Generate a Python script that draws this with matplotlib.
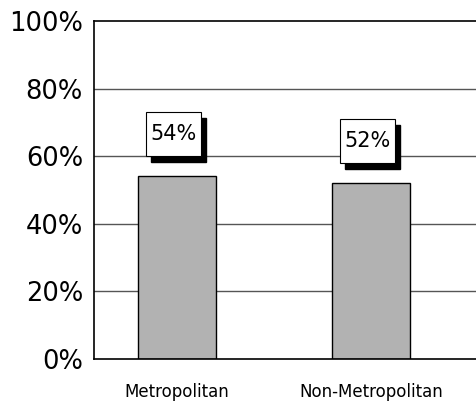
import matplotlib
matplotlib.use("Agg")
import matplotlib.pyplot as plt
import matplotlib.transforms as mtransforms
from matplotlib.patches import Rectangle

categories = ["Metropolitan", "Non-Metropolitan"]
values = [54, 52]
value_labels = ["54%", "52%"]
yticks = [0, 20, 40, 60, 80, 100]
ytick_labels = ["0%", "20%", "40%", "60%", "80%", "100%"]

plt.rcParams['font.family'] = ['DejaVu Sans']

fig = plt.figure(figsize=(4.76, 4.04), dpi=100)
ax = fig.add_axes([94/476, 45/404, 388/476, 338/404])

x = [0.5, 1.5]
ax.bar(x, values, width=0.4, color="#b2b2b2", edgecolor="black", linewidth=1, zorder=2)

ax.set_xlim(0.072, 2.072)
ax.set_ylim(0, 100)
ax.set_yticks(yticks)
ax.set_yticklabels(ytick_labels, fontsize=18.5)
ax.set_xticks(x)
ax.set_xticklabels(categories, fontsize=12)
ax.tick_params(axis="y", length=0, pad=8)
ax.tick_params(axis="x", length=0, pad=17)
for t in yticks[1:-1]:
    ax.axhline(t, color="#555555", linewidth=1, zorder=1)
for s in ["left", "bottom", "top"]:
    ax.spines[s].set_color("black")
    ax.spines[s].set_linewidth(1.2)
ax.spines["right"].set_visible(False)

px = 72 / fig.dpi  # points per pixel
bw, bh = 55 * px, 44 * px
dx, dy = -4 * px, 42 * px
sh = 5.5 * px
for xi, v, lab in zip(x, values, value_labels):
    anchor = mtransforms.ScaledTranslation(xi, v, ax.transData)
    full = mtransforms.Affine2D().scale(fig.dpi / 72.0) + anchor
    shadow = Rectangle((dx - bw / 2 + sh, dy - bh / 2 - sh), bw, bh,
                       facecolor="black", edgecolor="black", transform=full,
                       zorder=3, clip_on=False)
    box = Rectangle((dx - bw / 2, dy - bh / 2), bw, bh,
                    facecolor="white", edgecolor="black", linewidth=0.8,
                    transform=full, zorder=4, clip_on=False)
    ax.add_patch(shadow)
    ax.add_patch(box)
    ax.annotate(lab, xy=(xi, v), xytext=(dx, dy), textcoords="offset points",
                ha="center", va="center", fontsize=15, zorder=5)

fig.savefig("out.png", dpi=100)
